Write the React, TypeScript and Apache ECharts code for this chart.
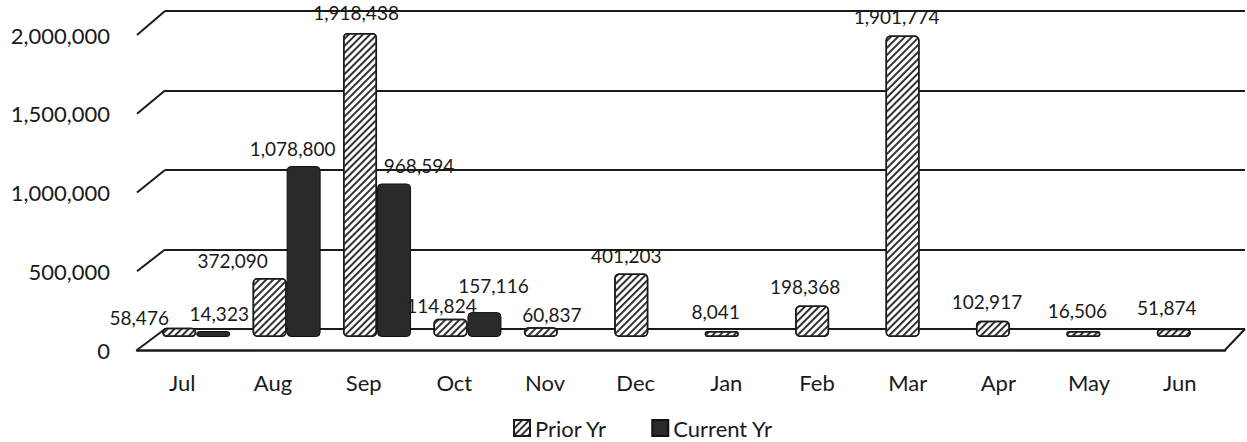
import React, { useEffect, useRef } from 'react';
import * as echarts from 'echarts';

const months = ['Jul', 'Aug', 'Sep', 'Oct', 'Nov', 'Dec', 'Jan', 'Feb', 'Mar', 'Apr', 'May', 'Jun'];
const priorYr = [58476, 372090, 1918438, 114824, 60837, 401203, 8041, 198368, 1901774, 102917, 16506, 51874];
const currentYr: (number | null)[] = [14323, 1078800, 968594, 157116, null, null, null, null, null, null, null, null];
const yTicks = [0, 500000, 1000000, 1500000, 2000000];
const yMax = 2000000;
const yInterval = 500000;

// label nudges (style only)
const priorLabelOffsets = [[-40, 7], [-37, 0], [-4, -3], [-9, 4], [11, 5], [-5, 0], [-6, -2], [-7, -2], [-6, -2], [-6, -2], [-6, -3], [-7, -4]];
const currentLabelOffsets = [[6, 0], [-11, 0], [25, 0], [9, -9]];

const W = 1247;
const H = 442;
const back = { left: 165, right: 1245, top: 11, bottom: 329 };
const front = { left: 137, right: 1225, top: 35, bottom: 350 };
const bars = { left: 151, right: 1236, top: 20, bottom: 337 };
const INK = '#1a1a1a';
const FONT = 'Lato, "Open Sans", sans-serif';

const fmt = (v: number) => v.toLocaleString('en-US');

function gridOf(b: { left: number; right: number; top: number; bottom: number }) {
  return { left: b.left, right: W - b.right, top: b.top, bottom: H - b.bottom, containLabel: false };
}

export default function App() {
  const ref = useRef<HTMLDivElement>(null);
  useEffect(() => {
    if (!ref.current) return;
    const chart = echarts.init(ref.current, undefined, { renderer: 'svg' });
    const yAt = (b: typeof back, v: number) => b.bottom - (v / yMax) * (b.bottom - b.top);
    const obliques: any[] = yTicks.map((v) => ({
      type: 'line',
      shape: { x1: front.left, y1: yAt(front, v), x2: back.left, y2: yAt(back, v) },
      style: { stroke: INK, lineWidth: 2 },
      silent: true,
    }));
    obliques.push({
      type: 'line',
      shape: { x1: front.right, y1: front.bottom, x2: back.right, y2: back.bottom },
      style: { stroke: INK, lineWidth: 2 },
      silent: true,
    });
    const hatch = {
      symbol: 'rect',
      symbolSize: 1,
      color: '#333',
      dashArrayX: [1, 0],
      dashArrayY: [2, 3],
      rotation: -Math.PI / 4,
    };
    const dataLabel = {
      show: true,
      position: 'top',
      distance: 8,
      fontSize: 19,
      color: INK,
      fontFamily: FONT,
      formatter: (p: any) => fmt(p.value),
    };
    chart.setOption({
      animation: false,
      backgroundColor: '#fff',
      grid: [gridOf(back), gridOf(front), gridOf(bars)],
      xAxis: [
        { gridIndex: 0, type: 'category', data: months, show: false },
        {
          gridIndex: 1,
          type: 'category',
          data: months,
          axisLine: { show: true, lineStyle: { color: INK, width: 2.5 } },
          axisTick: { show: false },
          axisLabel: { margin: 21, fontSize: 22, color: INK, fontFamily: FONT },
        },
        { gridIndex: 2, type: 'category', data: months, show: false },
      ],
      yAxis: [
        {
          gridIndex: 0,
          type: 'value',
          min: 0,
          max: yMax,
          interval: yInterval,
          axisLabel: { show: false },
          axisLine: { show: false },
          axisTick: { show: false },
          splitLine: { show: true, lineStyle: { color: INK, width: 2 } },
        },
        {
          gridIndex: 1,
          type: 'value',
          min: 0,
          max: yMax,
          interval: yInterval,
          axisLine: { show: false },
          axisTick: { show: false },
          splitLine: { show: false },
          axisLabel: { margin: 27, fontSize: 22, color: INK, fontFamily: FONT, formatter: (v: number) => fmt(v) },
        },
        { gridIndex: 2, type: 'value', min: 0, max: yMax, interval: yInterval, show: false, splitLine: { show: false } },
      ],
      legend: {
        data: ['Prior Yr', 'Current Yr'],
        left: 513,
        top: 416,
        padding: 0,
        icon: 'rect',
        itemWidth: 16,
        itemHeight: 16,
        itemGap: 44,
        textStyle: { fontSize: 22, lineHeight: 24, color: INK, fontFamily: FONT },
      },
      series: [
        {
          name: 'Prior Yr',
          type: 'bar',
          xAxisIndex: 2,
          yAxisIndex: 2,
          barWidth: 34,
          barGap: '0%',
          barMinHeight: 6,
          data: priorYr.map((v, i) => ({ value: v, label: { offset: priorLabelOffsets[i] } })),
          itemStyle: { color: '#fff', borderColor: INK, borderWidth: 1.5, borderRadius: 4, decal: hatch },
          label: dataLabel,
        },
        {
          name: 'Current Yr',
          type: 'bar',
          xAxisIndex: 2,
          yAxisIndex: 2,
          barWidth: 34,
          barGap: '0%',
          barMinHeight: 6,
          data: currentYr.map((v, i) =>
            v == null ? '-' : { value: v, label: { offset: currentLabelOffsets[i] || [0, 0] } }
          ),
          itemStyle: { color: '#2a2a2a', borderColor: '#111', borderWidth: 1, borderRadius: 4 },
          label: dataLabel,
        },
      ],
      graphic: obliques,
    });
    return () => chart.dispose();
  }, []);
  return <div ref={ref} style={{ position: 'absolute', left: 0, top: 0, width: W, height: H }} />;
}
